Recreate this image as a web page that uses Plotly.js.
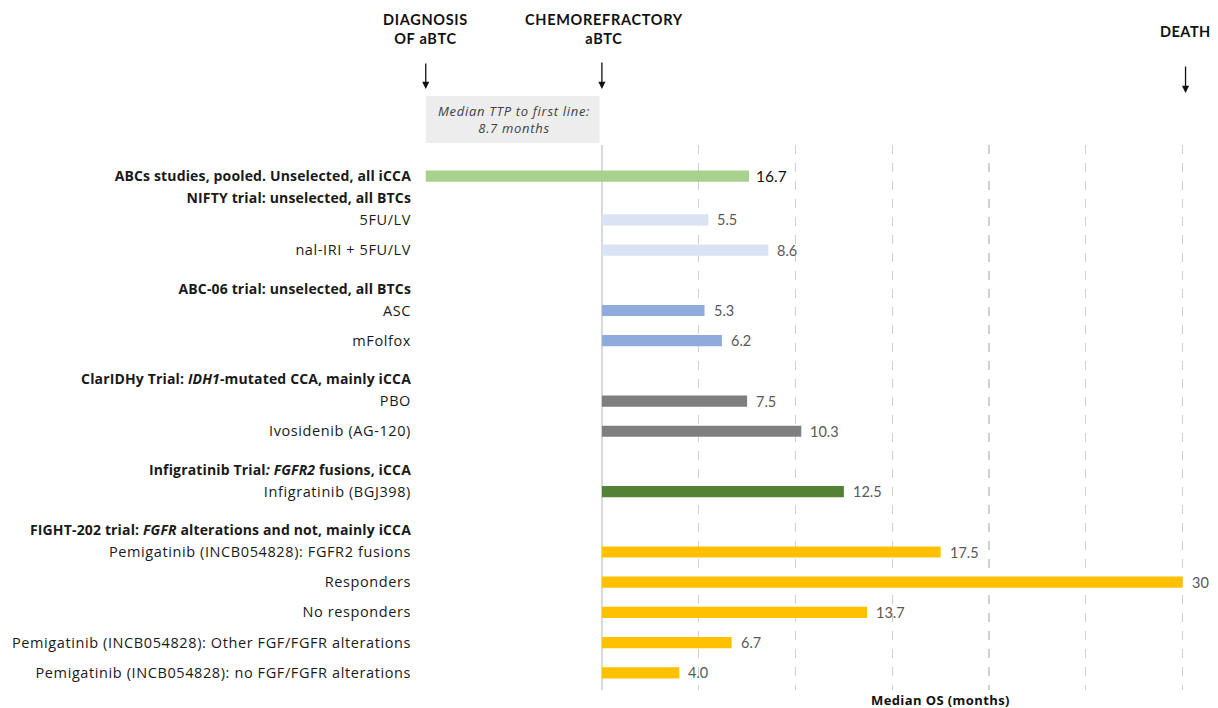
<!DOCTYPE html>
<html>
<head>
<meta charset="utf-8">
<script src="https://cdn.plot.ly/plotly-3.0.1.min.js"></script>
<style>html,body{margin:0;padding:0;background:#fff;}#chart{width:1218px;height:708px;}</style>
</head>
<body>
<div id="chart"></div>
<script>
// ---- data ----
const abcsLabel = '<b>ABCs studies, pooled. Unselected, all iCCA</b>';
const abcsValue = 16.7;
const ttpFirstLine = 8.7;

const groupTitles = [
  '<b>NIFTY trial: unselected, all BTCs</b>',
  '<b>ABC-06 trial: unselected, all BTCs</b>',
  '<b>ClarIDHy Trial: <i>IDH1</i>-mutated CCA, mainly iCCA</b>',
  '<b>Infigratinib Trial<i>: FGFR2</i> fusions, iCCA</b>',
  '<b>FIGHT-202 trial: <i>FGFR</i> alterations and not, mainly iCCA</b>'
];
const niftyLabels = ['5FU/LV', 'nal-IRI + 5FU/LV'];
const niftyValues = [5.5, 8.6];
const abc06Labels = ['ASC', 'mFolfox'];
const abc06Values = [5.3, 6.2];
const claridhyLabels = ['PBO', 'Ivosidenib (AG-120)'];
const claridhyValues = [7.5, 10.3];
const infigLabels = ['Infigratinib (BGJ398)'];
const infigValues = [12.5];
const fightLabels = [
  'Pemigatinib (INCB054828): FGFR2 fusions',
  'Responders',
  'No responders',
  'Pemigatinib (INCB054828): Other FGF/FGFR alterations',
  'Pemigatinib (INCB054828): no FGF/FGFR alterations'
];
const fightValues = [17.5, 30, 13.7, 6.7, 4.0];

// ---- styling / layout ----
const groupLabels = [niftyLabels, abc06Labels, claridhyLabels, infigLabels, fightLabels];
const groupValues = [niftyValues, abc06Values, claridhyValues, infigValues, fightValues];
const groupColors = ['#dae3f3', '#8faadc', '#7f7f7f', '#548235', '#ffc000'];
const abcsColor = '#a9d18e';
const abcsBase = -9.1;   // drawn from the diagnosis marker
const XMIN = -9.5, XMAX = 31;
const YTOP = -1.03, YBOT = 17.02;
const barW = 0.37;
const FONT = 'Lato, "Open Sans", sans-serif';
const LFONT = '"Open Sans", Lato, sans-serif';
const sp = (t, ls, fs) => '<span style="letter-spacing:' + ls + 'px' + (fs ? ';font-size:' + fs + 'px' : '') + '">' + t + '</span>';

const fmt = v => (Number.isInteger(v) && v >= 10) ? String(v) : v.toFixed(1);

const tickvals = [0], ticktext = [sp(abcsLabel, 0.15, 14)];
const traces = [{
  type: 'bar', orientation: 'h', y: [0], x: [abcsValue], base: [abcsBase],
  width: barW, marker: {color: abcsColor}, hoverinfo: 'skip'
}];
const annotations = [{
  x: abcsBase + abcsValue, y: 0, xref: 'x', yref: 'y', text: fmt(abcsValue),
  showarrow: false, xanchor: 'left', xshift: 5,
  font: {family: FONT, size: 15.5, color: '#111'}
}];

let pos = 0;
groupTitles.forEach((title, gi) => {
  pos += (gi === 0 ? 1.45 : 2.0);
  tickvals.push(pos - 0.72); ticktext.push(sp(title, 0.15, 14));
  const ys = [];
  groupLabels[gi].forEach((lab, li) => {
    if (li > 0) pos += 1;
    ys.push(pos);
    tickvals.push(pos); ticktext.push(sp(lab, 0.6));
    annotations.push({
      x: groupValues[gi][li], y: pos, xref: 'x', yref: 'y', text: fmt(groupValues[gi][li]),
      showarrow: false, xanchor: 'left', xshift: 7,
      font: {family: FONT, size: 14.5, color: '#595959'}
    });
  });
  traces.push({
    type: 'bar', orientation: 'h', y: ys, x: groupValues[gi], width: barW,
    marker: {color: groupColors[gi]}, hoverinfo: 'skip'
  });
});

// helpers: paper coords
const H = 708, T = 145, B = 18;
const plotH = H - T - B;
const py = p => (H - B - p) / plotH;              // pixel row -> paper y
const xp = v => (v - XMIN) / (XMAX - XMIN);       // data x -> paper x

// top markers
const markers = [
  {x: abcsBase, ax: abcsBase, text: '<b>' + sp('DIAGNOSIS', 0.7) + '<br>' + sp('OF aBTC', 0.7) + '</b>', top: 9, a0: 62, a1: 89},
  {x: 0.1, ax: 0, text: '<b>' + sp('CHEMOREFRACTORY', 0.7) + '<br>' + sp('aBTC', 0.7) + '</b>', top: 9, a0: 61, a1: 89},
  {x: 30.15, ax: 30.15, text: '<b>' + sp('DEATH', 0.5) + '</b>', top: 21, a0: 65, a1: 93}
];
markers.forEach(m => {
  annotations.push({
    x: xp(m.x), y: py(m.top), xref: 'paper', yref: 'paper', text: m.text,
    showarrow: false, xanchor: 'center', yanchor: 'top', align: 'center',
    font: {family: FONT, size: 14.5, color: '#111'}
  });
  annotations.push({
    x: xp(m.ax), y: py(m.a1), xref: 'paper', yref: 'paper', text: '',
    showarrow: true, ax: 0, ay: -(m.a1 - m.a0), arrowhead: 2, arrowsize: 1.1,
    arrowwidth: 1.3, arrowcolor: '#111'
  });
});

// TTP box text
annotations.push({
  x: xp(abcsBase / 2), y: py(119), xref: 'paper', yref: 'paper',
  text: '<i>' + sp('Median TTP to first line:', 0.7) + '<br>' + sp(ttpFirstLine + ' months', 0.7) + '</i>',
  showarrow: false, xanchor: 'center', yanchor: 'middle', align: 'center',
  font: {family: LFONT, size: 13, color: '#404040'}
});

// x axis title
annotations.push({
  x: xp(17.5), y: py(700), xref: 'paper', yref: 'paper', text: '<b>' + sp('Median OS (months)', 0.4) + '</b>',
  showarrow: false, xanchor: 'center', yanchor: 'middle',
  font: {family: LFONT, size: 13, color: '#111'}
});

const layout = {
  width: 1218, height: 708,
  margin: {l: 418, r: 16, t: T, b: B, pad: 0},
  paper_bgcolor: '#fff', plot_bgcolor: '#fff',
  showlegend: false, barmode: 'overlay',
  xaxis: {
    range: [XMIN, XMAX], tickvals: [5, 10, 15, 20, 25, 30], showticklabels: false,
    showgrid: true, gridcolor: '#d0d0d0', griddash: 'dash', gridwidth: 1.2,
    zeroline: true, zerolinecolor: '#d9d9d9', zerolinewidth: 1.5,
    showline: false, ticks: '', fixedrange: true
  },
  yaxis: {
    range: [YBOT, YTOP], tickmode: 'array', tickvals: tickvals, ticktext: ticktext,
    showgrid: false, zeroline: false, showline: false, ticks: '',
    ticklabelstandoff: 6,
    tickfont: {family: LFONT, size: 14.5, color: '#1a1a1a'}, fixedrange: true
  },
  shapes: [{
    type: 'rect', xref: 'paper', yref: 'paper',
    x0: xp(abcsBase), x1: xp(0) - 0.003, y0: py(143), y1: py(96),
    fillcolor: '#ededed', line: {width: 0}, layer: 'below'
  }],
  annotations: annotations
};

Plotly.newPlot('chart', traces, layout, {displayModeBar: false, staticPlot: true});
</script>
</body>
</html>
